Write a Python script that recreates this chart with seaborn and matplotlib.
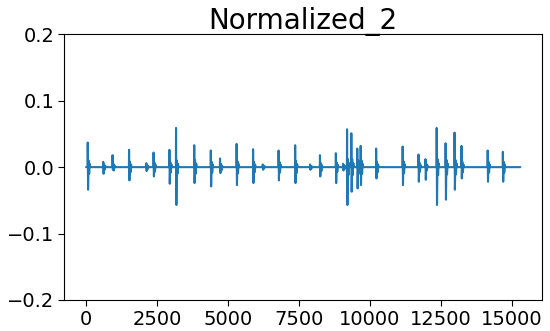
import matplotlib
matplotlib.use("Agg")
import matplotlib.pyplot as plt
import seaborn as sns
import pandas as pd

# Burst data (sample index, positive peak, negative peak, blob amplitude)
burst_x = [59, 605, 933, 1515, 2122, 2378, 2937, 3170, 3811, 4395,
           4720, 5304, 5885, 6224, 6783, 7367, 7891, 8241, 8801, 9056,
           9196, 9346, 9556, 9675, 10220, 11154, 11713, 11958, 12353, 12668,
           12983, 13227, 14150, 14685]
burst_top = [0.037, 0.008, 0.018, 0.026, 0.006, 0.022, 0.026, 0.059, 0.033, 0.025,
             0.013, 0.035, 0.027, 0.004, 0.025, 0.033, 0.004, 0.018, 0.021, 0.005,
             0.057, 0.051, 0.028, 0.032, 0.028, 0.031, 0.019, 0.012, 0.059, 0.036,
             0.052, 0.032, 0.025, 0.023]
burst_bottom = [-0.034, -0.010, -0.004, -0.020, -0.006, -0.014, -0.025, -0.057, -0.024, -0.029,
                -0.009, -0.027, -0.024, -0.004, -0.020, -0.024, -0.004, -0.014, -0.024, -0.005,
                -0.057, -0.037, -0.032, -0.027, -0.017, -0.027, -0.022, -0.019, -0.057, -0.049,
                -0.034, -0.017, -0.022, -0.022]
burst_blob = [0.010, 0.004, 0.005, 0.008, 0.003, 0.007, 0.008, 0.010, 0.010, 0.008,
              0.005, 0.009, 0.008, 0.002, 0.008, 0.009, 0.002, 0.006, 0.007, 0.003,
              0.012, 0.012, 0.010, 0.010, 0.008, 0.009, 0.007, 0.005, 0.012, 0.011,
              0.011, 0.008, 0.008, 0.008]
signal_end = 15300

title = "Normalized_2"
xticks = [0, 2500, 5000, 7500, 10000, 12500, 15000]
yticks = [-0.2, -0.1, 0.0, 0.1, 0.2]

# Build line vertices from burst data (flat baseline between bursts)
xs, ys = [0], [0.0]
for c, t, b, a in zip(burst_x, burst_top, burst_bottom, burst_blob):
    xs += [c - 5, c, c + 12, c + 30, c + 50, c + 70, c + 90]
    ys += [0.0, t, b, a, -a, a * 0.5, 0.0]
xs.append(signal_end)
ys.append(0.0)
df = pd.DataFrame({"x": xs, "y": ys})

sns.set_style("white")
plt.rcParams["font.family"] = ["DejaVu Sans"]
plt.rcParams["text.color"] = "black"
plt.rcParams["xtick.color"] = "black"
plt.rcParams["ytick.color"] = "black"

fig = plt.figure(figsize=(5.5, 3.31), dpi=100)
ax = fig.add_axes([0.117, 0.0937, 0.8685, 0.8027])
sns.lineplot(data=df, x="x", y="y", ax=ax, estimator=None, sort=False,
             color="#1f77b4", linewidth=1.5)
ax.set_ylim(-0.2, 0.2)
ax.set_xticks(xticks)
ax.set_yticks(yticks)
ax.set_xlabel("")
ax.set_ylabel("")
ax.set_title(title, fontsize=20, color="black", pad=4)
ax.tick_params(axis="both", labelsize=14, length=4, width=0.8, direction="out",
               bottom=True, left=True, colors="black", pad=3)
for s in ax.spines.values():
    s.set_visible(True)
    s.set_color("black")
    s.set_linewidth(0.8)

fig.savefig("out.png", dpi=100)
